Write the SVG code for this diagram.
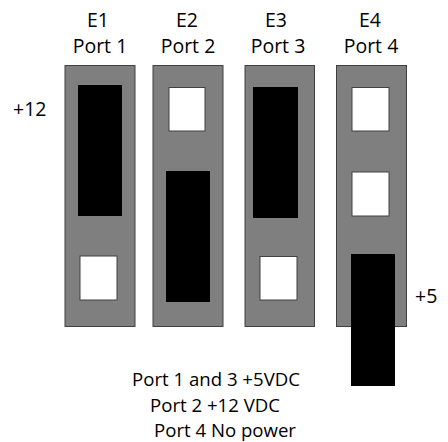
<svg xmlns="http://www.w3.org/2000/svg" width="448" height="442" viewBox="0 0 448 442">
<style>
.board{fill:#7f7f7f;stroke:#404040;stroke-width:1}
.on{fill:#000}
.off{fill:#fff;stroke:#404040;stroke-width:1}
text{font-family:"Open Sans","Noto Sans",sans-serif;font-size:19.5px;fill:#000}
.c{text-anchor:middle}
.note{font-size:18.6px}
</style>
<rect width="448" height="442" fill="#fff"/>
<g id="E1">
<text class="c" x="98" y="27">E1</text>
<text class="c" x="100" y="53">Port 1</text>
<rect class="board" x="65" y="65.5" width="70" height="261"/>
<rect class="on" x="78" y="85" width="44" height="131"/>
<rect class="off" x="80" y="256" width="37" height="44"/>
</g>
<g id="E2">
<text class="c" x="187" y="27">E2</text>
<text class="c" x="188" y="53">Port 2</text>
<rect class="board" x="153" y="65.5" width="70" height="261"/>
<rect class="off" x="169" y="87.5" width="36" height="43.5"/>
<rect class="on" x="166" y="171" width="44" height="131"/>
</g>
<g id="E3">
<text class="c" x="276" y="27">E3</text>
<text class="c" x="278" y="53">Port 3</text>
<rect class="board" x="245" y="65.5" width="69.5" height="261"/>
<rect class="on" x="253" y="87" width="45" height="131"/>
<rect class="off" x="260" y="256.5" width="37" height="43.5"/>
</g>
<g id="E4">
<text class="c" x="370" y="27">E4</text>
<text class="c" x="371" y="53">Port 4</text>
<rect class="board" x="336.5" y="65.5" width="70" height="261"/>
<rect class="off" x="352" y="87.5" width="37" height="43.5"/>
<rect class="off" x="352" y="172" width="37" height="44"/>
<rect class="on" x="351" y="254" width="44" height="132"/>
</g>
<g id="labels">
<text x="13" y="116">+12</text>
<text x="415" y="303">+5</text>
<text class="c note" x="216" y="386">Port 1 and 3 +5VDC</text>
<text class="c note" x="215" y="411.5">Port 2 +12 VDC</text>
<text class="c note" x="225" y="437">Port 4 No power</text>
</g>
</svg>
